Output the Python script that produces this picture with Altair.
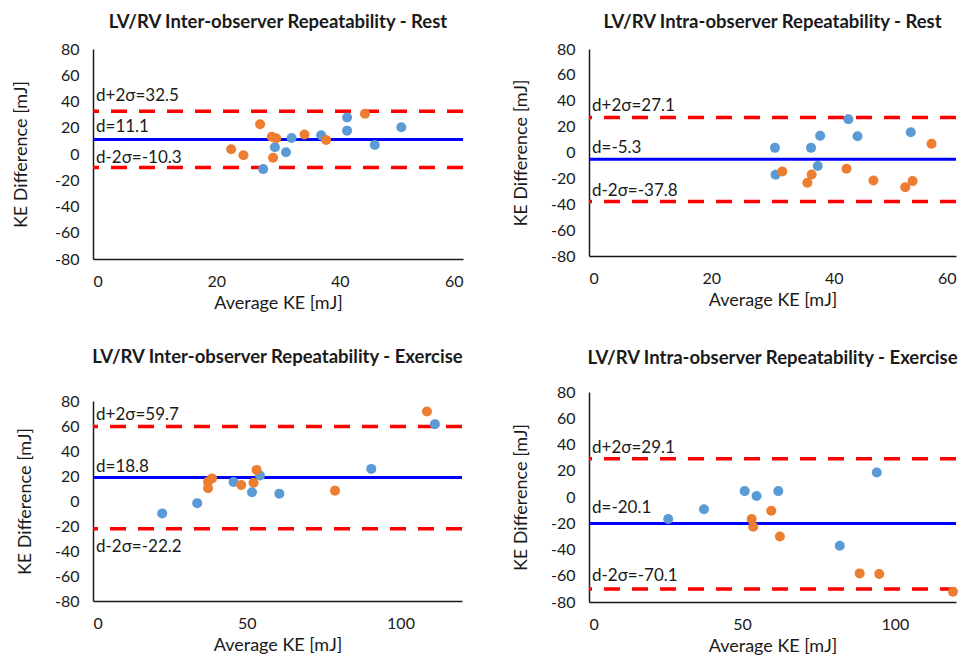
import altair as alt
import pandas as pd

FONT = "Lato"
TXT = "#1a1a1a"
BLUE_PT = "#5B9BD5"
ORANGE_PT = "#ED7D31"

# ---------------- data ----------------
titles = [
    "LV/RV Inter-observer Repeatability - Rest",
    "LV/RV Intra-observer Repeatability - Rest",
    "LV/RV Inter-observer Repeatability - Exercise",
    "LV/RV Intra-observer Repeatability - Exercise",
]
y_titles = ["KE Difference  [mJ]", "KE Difference [mJ]", "KE Difference [mJ]", "KE Difference [mJ]"]
x_title = "Average KE [mJ]"

# Panel 1: inter-observer, rest
p1_blue_x = [27.6, 29.5, 31.3, 32.2, 37.0, 41.2, 41.2, 45.7, 50.0]
p1_blue_y = [-11.5, 5.1, 1.3, 12.2, 14.3, 17.8, 27.8, 6.9, 20.4]
p1_orange_x = [22.4, 24.4, 27.1, 29.0, 29.7, 29.2, 34.3, 37.8, 44.1]
p1_orange_y = [3.6, -1.0, 22.7, 13.2, 12.0, -2.8, 14.8, 10.7, 30.6]
p1_stats = [11.1, 32.5, -10.3]  # mean, +2sd, -2sd

# Panel 2: intra-observer, rest
p2_blue_x = [30.4, 30.5, 36.3, 37.8, 37.4, 42.4, 43.9, 52.6]
p2_blue_y = [3.6, -17.2, 3.6, 12.9, -10.5, 25.7, 12.6, 15.7]
p2_orange_x = [31.6, 35.7, 36.4, 42.1, 46.5, 51.7, 52.9, 56.0]
p2_orange_y = [-14.7, -23.4, -17.0, -12.6, -21.6, -26.8, -22.1, 6.7]
p2_stats = [-5.3, 27.1, -37.8]

# Panel 3: inter-observer, exercise
p3_blue_x = [22.5, 33.9, 45.7, 51.7, 54.3, 60.6, 90.5, 111.2]
p3_blue_y = [-9.9, -1.7, 15.2, 7.0, 20.4, 5.9, 25.7, 61.5]
p3_orange_x = [37.4, 37.4, 38.7, 48.2, 52.2, 53.2, 78.7, 108.6]
p3_orange_y = [15.4, 10.2, 18.1, 12.8, 14.6, 24.9, 8.3, 71.6]
p3_stats = [18.8, 59.7, -22.2]

# Panel 4: intra-observer, exercise
p4_blue_x = [25.9, 37.6, 50.9, 54.8, 61.9, 82.0, 94.1]
p4_blue_y = [-16.8, -9.3, 4.5, 0.8, 4.5, -37.1, 18.6]
p4_orange_x = [53.2, 53.7, 59.6, 62.4, 88.5, 94.9, 119.0]
p4_orange_y = [-16.8, -22.6, -10.5, -30.1, -58.2, -58.7, -72.2]
p4_stats = [-20.1, 29.1, -70.1]

x_max = [60, 60, 120, 120]
x_ticks = [[0, 20, 40, 60], [0, 20, 40, 60], [0, 50, 100], [0, 50, 100]]
y_ticks = [-80, -60, -40, -20, 0, 20, 40, 60, 80]


def panel(title, ytitle, bx, by, ox, oy, stats, xmax, xt, width, height,
          dys, title_offset, ytitle_pad):
    mean, up, lo = stats
    pts = pd.DataFrame({
        "x": list(bx) + list(ox),
        "y": list(by) + list(oy),
        "s": ["A"] * len(bx) + ["B"] * len(ox),
    })
    xs = alt.Scale(domain=[0, xmax], nice=False, zero=False)
    ys = alt.Scale(domain=[-80, 80], nice=False)
    xax = alt.Axis(values=xt, title=x_title, labelPadding=14, titlePadding=5,
                   labelOverlap=False, labelExpr="'' + datum.value")
    yax = alt.Axis(values=y_ticks, title=ytitle, labelPadding=14, titlePadding=ytitle_pad,
                   labelOverlap=False, labelExpr="'' + datum.value")

    def yenc(field):
        return alt.Y(field, scale=ys, axis=yax)

    def xenc(field):
        return alt.X(field, scale=xs, axis=xax)

    points = alt.Chart(pts).mark_circle(size=100, opacity=1).encode(
        x=xenc("x:Q"),
        y=yenc("y:Q"),
        color=alt.Color("s:N", scale=alt.Scale(domain=["A", "B"], range=[BLUE_PT, ORANGE_PT]), legend=None),
        order=alt.Order("s:N"),
    )
    lims = pd.DataFrame({"v": [up, lo]})
    red = alt.Chart(lims).mark_rule(color="#FF0000", strokeWidth=3.5, strokeDash=[16, 12]).encode(
        y=yenc("v:Q")
    )
    blue = alt.Chart(pd.DataFrame({"v": [mean]})).mark_rule(color="#0000FF", strokeWidth=3).encode(
        y=yenc("v:Q")
    )
    labels = [(f"d+2σ={up}", up, dys[0]), (f"d={mean}", mean, dys[1]), (f"d-2σ={lo}", lo, dys[2])]
    texts = []
    for txt, val, dy in labels:
        texts.append(
            alt.Chart(pd.DataFrame({"v": [val], "t": [txt], "x0": [0]})).mark_text(
                align="left", baseline="alphabetic", dx=3, dy=dy, fontSize=17, font=FONT, color=TXT
            ).encode(x=xenc("x0:Q"), y=yenc("v:Q"), text="t:N")
        )
    return alt.layer(red, blue, points, *texts).properties(
        width=width, height=height,
        title=alt.TitleParams(title, fontSize=18.5, fontWeight="bold", font=FONT, color=TXT,
                              anchor="middle", offset=title_offset),
    )


c1 = panel(titles[0], y_titles[0], p1_blue_x, p1_blue_y, p1_orange_x, p1_orange_y, p1_stats,
           x_max[0], x_ticks[0], 370, 210, [-10, -7, -5], 10, 24)
c2 = panel(titles[1], y_titles[1], p2_blue_x, p2_blue_y, p2_orange_x, p2_orange_y, p2_stats,
           x_max[1], x_ticks[1], 367, 207, [-6, -6, -5], 10, 20)
c3 = panel(titles[2], y_titles[2], p3_blue_x, p3_blue_y, p3_orange_x, p3_orange_y, p3_stats,
           x_max[2], x_ticks[2], 369, 200, [-6, -6, 23], 27, 20)
c4 = panel(titles[3], y_titles[3], p4_blue_x, p4_blue_y, p4_orange_x, p4_orange_y, p4_stats,
           x_max[3], x_ticks[3], 367, 210, [-6, -10, -8], 17, 20)

chart = alt.hconcat(
    alt.vconcat(c1, c3, spacing=34),
    alt.vconcat(c2, c4, spacing=38),
    spacing=45,
).properties(
    padding={"left": 3, "top": 4, "right": 0, "bottom": 0}
).configure_view(stroke="transparent").configure_axis(
    domainColor="#1a1a1a", domainWidth=1.5, ticks=False, grid=False,
    labelFont=FONT, labelFontSize=16, labelColor=TXT,
    titleFont=FONT, titleFontSize=18, titleFontWeight="normal", titleColor=TXT,
)

chart.save("out.html", embed_options={"renderer": "svg", "actions": False})
